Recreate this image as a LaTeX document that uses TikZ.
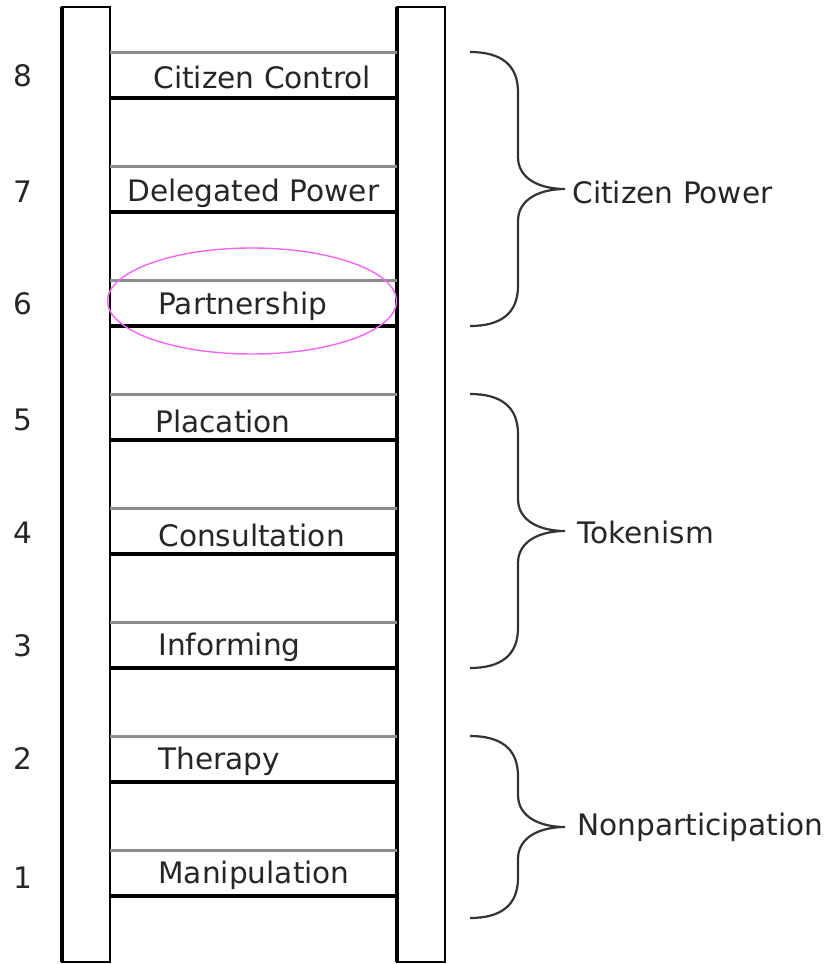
\documentclass[tikz,border=0pt]{standalone}
\usepackage{fontspec}
\setmainfont{DejaVu Sans}
\begin{document}
\begin{tikzpicture}[x=0.5pt,y=-0.5pt,
  rail/.style={draw=black,line width=1pt,fill=white},
  railedge/.style={draw=black,line width=2pt},
  rungtop/.style={draw=gray!90,line width=1.5pt},
  rungbot/.style={draw=black,line width=1.6pt},
  lbl/.style={anchor=west,inner sep=0pt,font=\fontsize{14.8pt}{16pt}\selectfont,text=black!85},
  num/.style={inner sep=0pt,font=\fontsize{14.8pt}{16pt}\selectfont,text=black!85},
  brace/.style={draw=black!80,line width=1.1pt},
  grp/.style={anchor=west,inner sep=0pt,font=\fontsize{14.8pt}{16pt}\selectfont,text=black!85}]
\useasboundingbox (0,0) rectangle (829,964);
% rails
\path[rail] (62,7) rectangle (110,962);
\path[rail] (397,7) rectangle (445,962);
\draw[railedge] (62,7) -- (62,962);
\draw[railedge] (397,7) -- (397,962);
% rungs
\foreach \t in {52,166,280,394,508,622,736,850}{
  \draw[rungtop] (110,\t) -- (397,\t);
  \draw[rungbot] (110,\t+46) -- (397,\t+46);
}
% numbers
\node[num] (n8) at (23,76) {8};
\node[num] (n7) at (23,192) {7};
\node[num] (n6) at (23,304) {6};
\node[num] (n5) at (23,420) {5};
\node[num] (n4) at (23,533) {4};
\node[num] (n3) at (23,646) {3};
\node[num] (n2) at (23,759) {2};
\node[num] (n1) at (23,878) {1};
% labels
\node[lbl] (l8) at (153,77) {Citizen Control};
\node[lbl] (l7) at (127,193) {Delegated Power};
\node[lbl] (l6) at (158,306) {Partnership};
\node[lbl] (l5) at (155,421) {Placation};
\node[lbl] (l4) at (158,535) {Consultation};
\node[lbl] (l3) at (158,647) {Informing};
\node[lbl] (l2) at (158,761) {Therapy};
\node[lbl] (l1) at (158,875) {Manipulation};
% ellipse
\draw[draw={rgb,255:red,245;green,100;blue,245},line width=0.7pt] (252,301) ellipse [x radius=72.25pt, y radius=26.5pt];
% braces
\foreach \t/\b in {52/326,394/668,736/918}{
  \pgfmathsetmacro{\m}{(\t+\b)/2}
  \draw[brace] (470,\t) .. controls (500,\t) and (518,\t+12) .. (518,\t+40)
    -- (518,\m-32) .. controls (518,\m-10) and (540,\m) .. (565,\m)
    .. controls (540,\m) and (518,\m+10) .. (518,\m+32)
    -- (518,\b-40) .. controls (518,\b-12) and (500,\b) .. (470,\b);
}
\node[grp] (g1) at (572,192) {Citizen Power};
\node[grp] (g2) at (577,532) {Tokenism};
\node[grp] (g3) at (577,827) {Nonparticipation};
\end{tikzpicture}
\end{document}
